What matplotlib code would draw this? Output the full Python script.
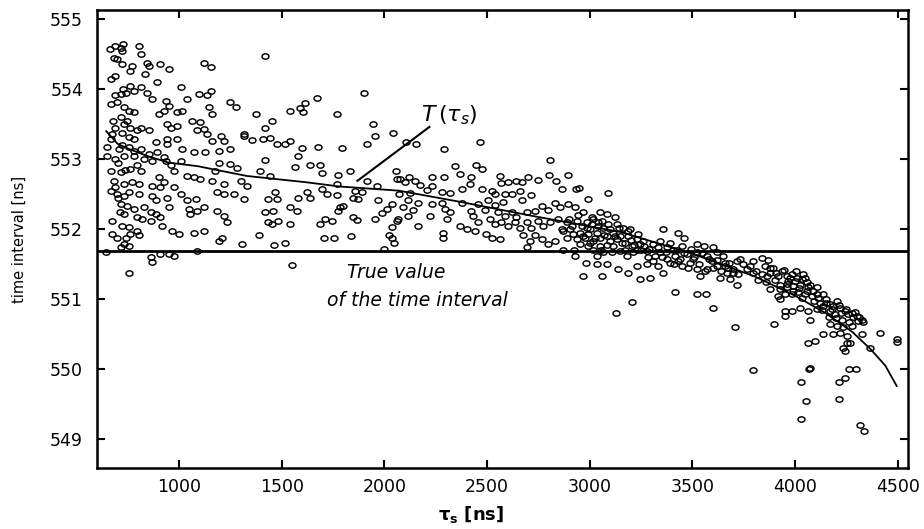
import numpy as np
import matplotlib
matplotlib.use("Agg")
import matplotlib.pyplot as plt
from matplotlib.path import Path
from matplotlib.transforms import Affine2D

# ---------------- data ----------------
tau_a = [663, 690, 715, 728, 723, 804, 812, 682, 698, 723, 771, 763, 844, 853, 909, 950, 836, 690, 666, 893,
         1007, 1120, 1153, 763, 780, 812, 844, 869, 690, 715, 739, 666, 698, 731, 755, 780, 934, 950, 901, 926,
         991, 1015, 1039, 1096, 1153, 1137, 1145, 1161, 1250, 1275, 715, 731, 763, 796, 812, 723, 674, 666, 755, 780,
         853, 942, 958, 991, 1064, 1104, 1088, 1120, 1137, 1161, 1202, 1218, 942, 991, 942, 885, 650, 706, 755, 780,
         812, 853, 893, 926, 1015, 1072, 1128, 1193, 1250, 1315, 1315, 650, 690, 731, 780, 828, 869, 934, 1007, 958,
         974, 1193, 1250, 1283, 1177, 666, 715, 763, 796, 812, 1039, 1072, 1104, 1161, 1218, 1299, 682, 731, 771, 804,
         901, 926, 869, 909, 974, 666, 698, 731, 755, 804, 869, 885, 942, 1007, 1039, 1080, 1185, 1218, 1266, 1315,
         715, 747, 780, 828, 861, 885, 909, 950, 1047, 1055, 1088, 1120, 1185, 1218, 1234, 731, 796, 820, 674, 723,
         755, 796, 804, 861, 917, 966, 999, 1072, 1120, 674, 698, 739, 763, 1210, 1193, 731, 755, 715, 1307, 642,
         861, 909, 974, 1088, 950, 869, 755]
int_a = [554.57, 554.61, 554.59, 554.65, 554.55, 554.61, 554.50, 554.45, 554.43, 554.36, 554.33, 554.26, 554.38, 554.33, 554.36, 554.29, 554.22, 554.19, 554.14, 554.10,
         554.03, 554.38, 554.32, 554.05, 553.98, 554.03, 553.95, 553.86, 553.91, 553.93, 553.95, 553.79, 553.81, 553.74, 553.69, 553.67, 553.83, 553.76, 553.64, 553.69,
         553.67, 553.69, 553.86, 553.93, 553.98, 553.91, 553.74, 553.64, 553.81, 553.74, 553.60, 553.50, 553.45, 553.41, 553.45, 553.38, 553.36, 553.29, 553.31, 553.29,
         553.41, 553.50, 553.45, 553.48, 553.55, 553.53, 553.41, 553.43, 553.36, 553.26, 553.33, 553.26, 553.29, 553.29, 553.21, 553.24, 553.17, 553.14, 553.17, 553.12,
         553.14, 553.07, 553.10, 553.03, 553.14, 553.10, 553.10, 553.12, 553.14, 553.33, 553.36, 553.05, 553.00, 553.05, 553.05, 553.00, 552.98, 552.98, 552.98, 552.91,
         552.83, 552.95, 552.93, 552.88, 552.83, 552.83, 552.81, 552.86, 552.91, 552.83, 552.76, 552.74, 552.72, 552.69, 552.64, 552.69, 552.69, 552.64, 552.67, 552.64,
         552.74, 552.67, 552.62, 552.60, 552.60, 552.55, 552.50, 552.48, 552.53, 552.50, 552.48, 552.41, 552.45, 552.50, 552.41, 552.43, 552.53, 552.50, 552.50, 552.43,
         552.36, 552.33, 552.29, 552.31, 552.24, 552.22, 552.17, 552.31, 552.29, 552.22, 552.26, 552.31, 552.26, 552.19, 552.10, 552.22, 552.17, 552.14, 552.12, 552.05,
         552.03, 551.98, 551.91, 552.12, 552.05, 551.98, 551.93, 551.95, 551.98, 551.93, 551.88, 551.88, 551.93, 551.88, 551.83, 551.79, 551.76, 551.74, 551.79, 551.67,
         551.60, 551.64, 551.62, 551.69, 551.64, 551.53, 551.37]

tau_b = [1419, 1901, 1670, 1613, 1589, 1605, 1540, 1375, 1768, 1451, 1419, 1946, 1954, 2044, 1354, 1407, 1443, 1476, 1516, 1540,
         1597, 1678, 1792, 1914, 1581, 1419, 1565, 1638, 1686, 1694, 1833, 1776, 1394, 1443, 1329, 1768, 1914, 2057, 2060, 1962,
         1857, 1889, 1622, 1638, 1581, 1694, 1719, 1768, 1467, 1435, 1476, 1849, 1873, 1970, 2035, 2011, 1987, 1954, 1540, 1573,
         1419, 1459, 1784, 1800, 1776, 1849, 1865, 1435, 1451, 1484, 1540, 1686, 1711, 1743, 2060, 2035,
         1388, 1461, 1518, 1705, 1753, 1838, 2021, 2037, 2045, 1997, 1550]
int_b = [554.48, 553.94, 553.87, 553.80, 553.73, 553.67, 553.69, 553.64, 553.65, 553.55, 553.45, 553.50, 553.33, 553.38, 553.27, 553.29, 553.30, 553.22, 553.21, 553.26,
         553.16, 553.18, 553.16, 553.22, 553.05, 552.99, 552.89, 552.92, 552.92, 552.80, 552.83, 552.78, 552.83, 552.76, 552.62, 552.65, 552.69, 552.83, 552.72, 552.61,
         552.55, 552.53, 552.53, 552.45, 552.45, 552.57, 552.50, 552.49, 552.53, 552.43, 552.43, 552.45, 552.43, 552.42, 552.36, 552.29, 552.23, 552.14, 552.31, 552.26,
         552.24, 552.26, 552.31, 552.33, 552.26, 552.17, 552.13, 552.10, 552.07, 552.12, 552.07, 552.07, 552.14, 552.11, 552.12, 552.03,
         551.91, 551.77, 551.80, 551.87, 551.87, 551.90, 551.91, 551.87, 551.81, 551.72, 551.49]

tau_c = [2103, 2156, 2291, 2465, 2806, 2343, 2445, 2473, 2367, 2421, 2801, 2697, 2746, 2075, 2119, 2100, 2148, 2173, 2233, 2291,
         2562, 2567, 2603, 2643, 2668, 2070, 2124, 2205, 2230, 2278, 2319, 2376, 2416, 2473, 2522, 2538, 2587, 2619, 2660, 2713,
         2838, 2863, 2116, 2165, 2230, 2278, 2376, 2457, 2505, 2538, 2578, 2668, 2765, 2830, 2092, 2140, 2294, 2319, 2424, 2432,
         2489, 2554, 2587, 2619, 2643, 2692, 2733, 2798, 2854, 2067, 2116, 2165, 2221, 2303, 2367, 2400, 2441, 2457, 2514, 2538,
         2570, 2603, 2635, 2660, 2692, 2716, 2749, 2773, 2806, 2846, 2863, 2286, 2286, 2497, 2522, 2562, 2676, 2708, 2733, 2765,
         2798, 2830, 2692, 2871]
int_c = [553.24, 553.21, 553.14, 553.25, 552.99, 552.90, 552.91, 552.86, 552.79, 552.75, 552.77, 552.75, 552.70, 552.72, 552.75, 552.67, 552.69, 552.63, 552.74, 552.74,
         552.76, 552.66, 552.68, 552.69, 552.67, 552.50, 552.52, 552.56, 552.61, 552.53, 552.52, 552.57, 552.64, 552.57, 552.55, 552.50, 552.50, 552.50, 552.55, 552.49,
         552.69, 552.57, 552.41, 552.38, 552.36, 552.38, 552.38, 552.36, 552.42, 552.34, 552.39, 552.41, 552.33, 552.38, 552.31, 552.28, 552.29, 552.24, 552.26, 552.19,
         552.28, 552.24, 552.19, 552.24, 552.17, 552.24, 552.26, 552.28, 552.31, 552.14, 552.19, 552.05, 552.19, 552.14, 552.05, 552.00, 551.98, 552.10, 552.14, 552.07,
         552.10, 552.05, 552.10, 552.02, 552.10, 552.02, 552.12, 552.05, 552.10, 552.14, 552.00, 551.95, 551.88, 551.93, 551.88, 551.86, 551.91, 551.83, 551.91, 551.86,
         551.79, 551.83, 551.74, 551.71]

tau_d = [2896, 2933, 2949, 2993, 3090, 2896, 2928, 2969, 3050, 3082, 3123, 2887, 2936, 2985, 3017, 3058, 3163, 3196, 3355, 3431,
         3459, 2904, 2952, 3001, 3033, 3066, 3115, 3147, 3228, 3261, 2887, 2936, 2977, 3017, 3050, 3098, 3171, 3204, 3245, 3309,
         3342, 3374, 3407, 3447, 3520, 3556, 3598, 2928, 3017, 3033, 3066, 3147, 3179, 3212, 3277, 3318, 3342, 3415, 3472, 3520,
         3569, 3618, 3650, 2982, 3033, 3082, 3139, 3188, 3245, 3293, 3228, 3277, 3334, 3358, 3391, 3447, 3488, 3520, 3537, 3569,
         3618, 3658, 3634, 3666, 2969, 3058, 3415, 3520, 3566, 3598, 3204, 3128,
         2912, 2960, 3009, 3042, 3090, 3131, 2920, 2993, 3082, 3131, 3188, 2952, 2993, 3050, 3115, 3228, 3285, 3374, 3431, 3504,
         3594, 3675]
int_d = [552.77, 552.57, 552.59, 552.43, 552.52, 552.36, 552.31, 552.24, 552.24, 552.21, 552.17, 552.10, 552.12, 552.10, 552.14, 552.12, 552.02, 552.00, 552.00, 551.94,
         551.87, 552.00, 551.95, 552.00, 551.95, 552.01, 551.95, 551.90, 551.86, 551.83, 551.88, 551.86, 551.88, 551.83, 551.88, 551.83, 551.81, 551.76, 551.79, 551.79,
         551.83, 551.74, 551.71, 551.76, 551.79, 551.76, 551.75, 551.62, 551.71, 551.62, 551.67, 551.69, 551.62, 551.67, 551.69, 551.62, 551.67, 551.62, 551.64, 551.67,
         551.62, 551.67, 551.62, 551.52, 551.50, 551.51, 551.43, 551.38, 551.29, 551.31, 551.48, 551.50, 551.48, 551.38, 551.52, 551.48, 551.52, 551.43, 551.33, 551.43,
         551.48, 551.52, 551.31, 551.38, 551.33, 551.33, 551.10, 551.08, 551.08, 550.87, 550.96, 550.80,
         552.05, 552.05, 552.07, 552.05, 552.07, 552.07, 551.93, 551.93, 551.90, 551.86, 551.90, 551.79, 551.76, 551.76, 551.76, 551.71, 551.60, 551.57, 551.55, 551.57,
         551.55, 551.45]

tau_e = [3715, 3748, 3699, 3723, 3683, 3715, 3780, 3796, 3837, 3869, 3853, 3894, 3821, 3861, 3902, 3934, 3959, 3983, 4007, 4040,
         3877, 3926, 3959, 3991, 4024, 4056, 4105, 3918, 3926, 3950, 3983, 4015, 4048, 4080, 4105, 3950, 3950, 3983, 4024, 4064,
         4072, 4105, 4121, 4137, 4170, 4202, 4170, 4194, 4226, 4259, 4283, 4308, 4332, 4170, 4202, 4235, 4275, 4137, 4186, 4218,
         4251, 4324, 4413, 4494, 4494, 4364, 4251, 4235, 4243, 4267, 4064, 4097, 4072, 4069, 4264, 4296, 4215, 4243, 4215, 4027,
         4053, 4027, 4316, 4335, 3796, 3897, 3707,
         3877, 3918, 3967, 3999, 4032, 4064, 4089, 4137, 4153, 4186, 4218, 4243, 4275, 4300, 4324, 3764, 3812, 3837, 3731, 3796]
int_e = [551.55, 551.50, 551.43, 551.36, 551.29, 551.20, 551.47, 551.38, 551.59, 551.56, 551.48, 551.45, 551.28, 551.33, 551.28, 551.40, 551.33, 551.36, 551.31, 551.36,
         551.14, 551.21, 551.17, 551.19, 551.21, 551.24, 551.17, 551.05, 551.00, 551.07, 551.07, 551.10, 551.07, 551.05, 551.07, 550.83, 550.76, 550.83, 550.88, 550.83,
         550.71, 550.86, 550.95, 550.90, 550.93, 550.98, 550.83, 550.79, 550.81, 550.79, 550.74, 550.69, 550.67, 550.64, 550.62, 550.60, 550.62, 550.50, 550.50, 550.52,
         550.48, 550.50, 550.52, 550.43, 550.39, 550.31, 550.38, 550.31, 550.26, 550.37, 550.38, 550.40, 550.02, 550.00, 550.01, 550.01, 549.82, 549.87, 549.58, 549.82,
         549.55, 549.29, 549.21, 549.12, 549.99, 550.65, 550.60,
         551.38, 551.33, 551.26, 551.26, 551.29, 551.17, 551.12, 551.07, 551.00, 550.90, 550.88, 550.83, 550.81, 550.76, 550.71, 551.43, 551.40, 551.36, 551.57, 551.55]

# points inside the solid black parts of the band (overlapping circles)
tau_f = [2870, 2900, 2925, 2945, 2965, 2985, 3000, 3010, 3025, 3040, 3055, 3070, 3085, 3100, 3110, 3125, 3140, 3155, 3170, 3185,
         3200, 3215, 3235, 3250, 3265, 3290, 3310, 3330, 3350, 3370, 3390, 3410, 3425, 3440, 3460, 3480, 3495, 3510, 3530, 3545,
         3560, 3580, 3600, 3620, 3640, 3660, 3680, 3700, 3860, 3880, 3905, 3925, 3945, 3960, 3975, 3990, 4005, 4020, 4035, 4050,
         4060, 4075, 4090, 4110, 4130, 4150, 4165, 4180, 4200, 4215, 4230, 4250, 4265, 4290, 4310,
         690, 700, 710, 720, 735, 745, 700, 690, 680, 725]
int_f = [551.98, 552.15, 551.70, 552.20, 551.90, 552.02, 551.80, 552.18, 551.88, 552.10, 551.70, 551.92, 551.78, 552.00, 551.68, 551.90, 552.02, 551.80, 551.70, 551.97,
         551.85, 551.78, 551.93, 551.70, 551.76, 551.72, 551.55, 551.74, 551.60, 551.68, 551.80, 551.50, 551.70, 551.58, 551.66, 551.45, 551.72, 551.60, 551.50, 551.66,
         551.40, 551.58, 551.45, 551.56, 551.40, 551.47, 551.52, 551.38, 551.25, 551.45, 551.38, 551.15, 551.42, 551.22, 551.30, 551.12, 551.40, 551.16, 551.02, 551.30,
         551.12, 551.20, 550.98, 551.02, 550.85, 550.95, 550.75, 550.86, 550.73, 550.92, 550.70, 550.86, 550.68, 550.82, 550.75,
         553.45, 552.45, 552.25, 553.20, 552.85, 553.55, 552.95, 552.60, 553.55, 554.00]

# fitted curve T(tau_s)
tau_curve = [645, 700, 760, 850, 950, 1090, 1330, 1620, 1780, 2070, 2370, 2720, 3150, 3500, 3800, 4000, 4150, 4280, 4370, 4440, 4495]
T_curve = [553.40, 553.22, 553.14, 553.04, 552.95, 552.90, 552.76, 552.67, 552.61, 552.55, 552.39, 552.19, 551.96, 551.65, 551.33, 551.05, 550.80, 550.53, 550.28, 550.05, 549.76]

true_value = 551.69

x_ticks = [1000, 1500, 2000, 2500, 3000, 3500, 4000, 4500]
y_ticks = [549, 550, 551, 552, 553, 554, 555]

tau_all = np.concatenate([tau_a, tau_b, tau_c, tau_d, tau_e, tau_f])
int_all = np.concatenate([int_a, int_b, int_c, int_d, int_e, int_f])

# ---------------- figure ----------------
plt.rcParams['font.family'] = ['DejaVu Sans']
fig = plt.figure(figsize=(9.24, 5.29), dpi=100)
ax = fig.add_axes([97/924, 1 - 468/529, (908 - 97)/924, (468 - 10)/529])

# slightly wide ellipse marker (as in the reference)
circ = Path.unit_circle()
ell = circ.transformed(Affine2D().scale(1.3, 1.0))

ax.plot(tau_all, int_all, linestyle='none', marker=ell, markersize=5.0,
        markerfacecolor='none', markeredgecolor='black', markeredgewidth=1.05, zorder=3)
ax.plot(tau_curve, T_curve, color='black', linewidth=1.3, zorder=4)
ax.axhline(true_value, color='black', linewidth=2.0, zorder=2)

ax.set_xlim(600, 4550)
ax.set_ylim(548.59, 555.13)
ax.set_xticks(x_ticks)
ax.set_yticks(y_ticks)
ax.tick_params(direction='in', length=6, width=1.5, top=True, right=True,
               labelsize=12.5, pad=7)
ax.tick_params(axis='y', pad=10)
for s in ax.spines.values():
    s.set_linewidth(1.8)

# annotation T(tau_s)
ax.plot([1868, 2219], [552.69, 553.46], color='black', linewidth=1.5, zorder=4)
ax.text(2180, 553.54, r'$T\,(\tau_s)$', fontsize=16, ha='left', va='baseline')

ax.text(2056, 551.31, 'True value', fontsize=13.5, style='italic', ha='center', va='baseline')
ax.text(2163, 550.90, 'of the time interval', fontsize=13.5, style='italic', ha='center', va='baseline')

ax.set_ylabel('time interval [ns]', fontsize=10.5)
ax.yaxis.set_label_coords(-0.086, 0.5)
ax.set_xlabel(r'τ$_\mathbf{s}$ [ns]', fontsize=13, fontweight='bold')
ax.xaxis.set_label_coords(0.461, -0.078)

fig.savefig('out.png', dpi=100)
